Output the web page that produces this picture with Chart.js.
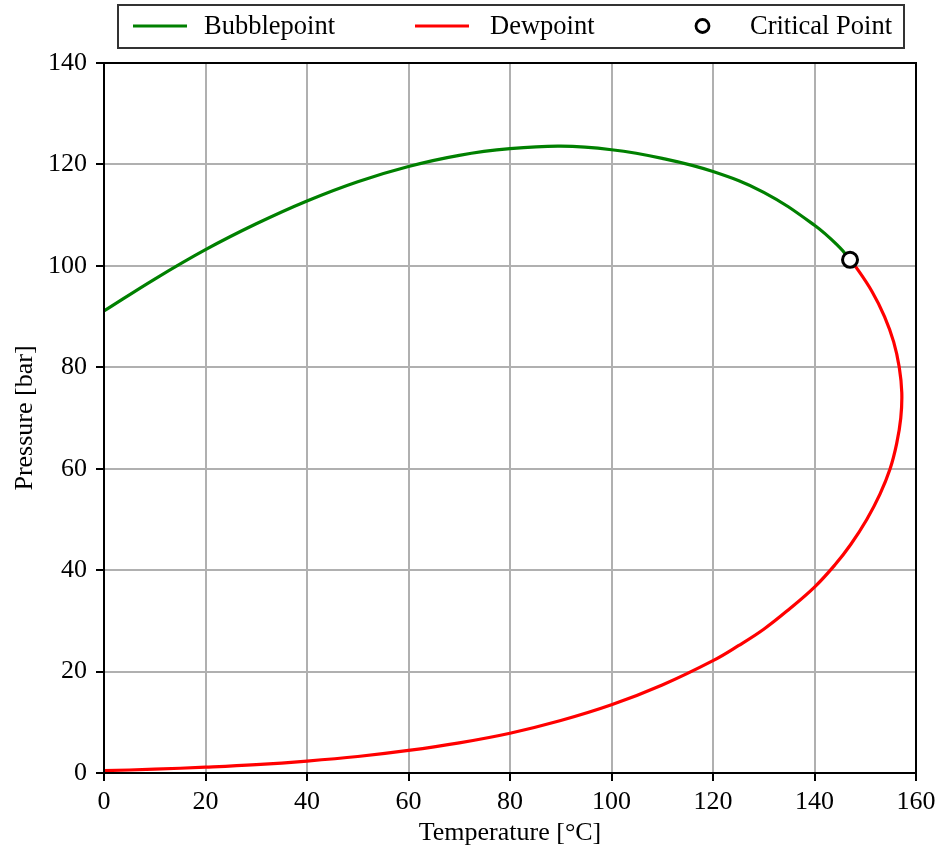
<!DOCTYPE html>
<html>
<head>
<meta charset="utf-8">
<script src="https://cdn.jsdelivr.net/npm/chart.js@4.4.4/dist/chart.umd.min.js"></script>
<style>
  html, body { margin: 0; padding: 0; background: #fff; }
  #wrap { width: 939px; height: 855px; }
</style>
</head>
<body>
<div id="wrap"><canvas id="phase" width="939" height="855"></canvas></div>
<script>
// Bubblepoint curve (temperature °C, pressure bar)
const bubbleT = [0, 10, 20, 30, 40, 50, 60, 70, 80, 90, 100, 110, 120, 130, 140, 145, 147];
const bubbleP = [91.1, 97.4, 103.2, 108.3, 112.8, 116.6, 119.6, 121.8, 123.1, 123.6, 122.9, 121.2, 118.6, 114.5, 108.0, 103.6, 101.2];

// Dewpoint curve, ordered along the curve from low pressure up to the critical point
const dewT = [0, 10, 20, 30, 40, 50, 60, 70, 80, 90, 100, 110, 120, 125, 130, 135, 140, 144, 147.1, 150.3, 152.9, 154.9, 156.2, 157.0, 157.2, 156.7, 155.6, 153.8, 151.3, 148.0, 147.0];
const dewP = [0.45, 0.75, 1.15, 1.65, 2.35, 3.25, 4.45, 5.95, 7.85, 10.35, 13.45, 17.35, 22.15, 25.1, 28.35, 32.3, 36.65, 41.0, 45, 50, 55, 60, 65, 70, 75, 80, 85, 90, 95, 100, 101.2];

// Critical point
const critT = [147.0];
const critP = [101.2];

const xTicks = { min: 0, max: 160, step: 20 };
const yTicks = { min: 0, max: 140, step: 20 };

const FONT = "'Liberation Serif', 'Times New Roman', serif";
const toPts = (xs, ys) => xs.map((x, i) => ({ x: x, y: ys[i] }));

// matplotlib-like boxed legend drawn across the top
const boxLegend = {
  id: 'boxLegend',
  afterDraw(chart) {
    const ctx = chart.ctx;
    ctx.save();
    ctx.strokeStyle = '#333';
    ctx.lineWidth = 2;
    ctx.strokeRect(118, 5, 786, 43);
    const handles = [133, 415, 676];
    const texts = [204, 490, 750];
    const cy = 26;
    ctx.font = '26.5px ' + FONT;
    ctx.textBaseline = 'alphabetic';
    chart.data.datasets.forEach((ds, i) => {
      const x0 = handles[i];
      if (ds.showLine === false) {
        ctx.beginPath();
        ctx.arc(x0 + 26.5, cy, 6.5, 0, Math.PI * 2);
        ctx.fillStyle = '#fff';
        ctx.fill();
        ctx.lineWidth = 2.8;
        ctx.strokeStyle = '#000';
        ctx.stroke();
      } else {
        ctx.beginPath();
        ctx.moveTo(x0, cy);
        ctx.lineTo(x0 + 54, cy);
        ctx.lineWidth = 3.2;
        ctx.strokeStyle = ds.borderColor;
        ctx.stroke();
      }
      ctx.fillStyle = '#000';
      ctx.fillText(ds.label, texts[i], 34);
    });
    ctx.restore();
  }
};

// black frame on all four sides of the plot area
const frame = {
  id: 'frame',
  afterDatasetsDraw(chart) {
    const { left, top, width, height } = chart.chartArea;
    const ctx = chart.ctx;
    ctx.save();
    ctx.strokeStyle = '#000';
    ctx.lineWidth = 2;
    ctx.strokeRect(left, top, width, height);
    ctx.restore();
  }
};

const tickFont = { family: FONT, size: 26 };

new Chart(document.getElementById('phase'), {
  type: 'line',
  data: {
    datasets: [
      {
        label: 'Bubblepoint',
        data: toPts(bubbleT, bubbleP),
        borderColor: '#008000',
        borderWidth: 3.2,
        pointRadius: 0,
        tension: 0.4,
        order: 2
      },
      {
        label: 'Dewpoint',
        data: toPts(dewT, dewP),
        borderColor: '#ff0000',
        borderWidth: 3.2,
        pointRadius: 0,
        tension: 0.4,
        order: 1
      },
      {
        label: 'Critical Point',
        data: toPts(critT, critP),
        showLine: false,
        pointRadius: 7.5,
        pointBorderWidth: 3,
        pointBackgroundColor: '#fff',
        pointBorderColor: '#000',
        borderColor: '#000',
        order: 0
      }
    ]
  },
  options: {
    responsive: false,
    animation: false,
    devicePixelRatio: 1,
    layout: { padding: { top: 63, right: 23, left: 0, bottom: 0 } },
    plugins: { legend: { display: false }, tooltip: { enabled: false } },
    scales: {
      x: {
        type: 'linear',
        min: xTicks.min,
        max: xTicks.max,
        ticks: { stepSize: xTicks.step, color: '#000', font: tickFont, padding: 6 },
        grid: { color: '#b0b0b0', lineWidth: 2, tickColor: '#000', tickLength: 8, tickWidth: 2 },
        border: { display: true, color: '#000', width: 2 },
        title: { display: true, text: 'Temperature [°C]', color: '#000', font: tickFont, padding: { top: 0, bottom: 6 } },
        afterFit(scale) {
          scale.height = 82;
          scale.paddingLeft = 0;
          scale.paddingRight = 0;
        }
      },
      y: {
        type: 'linear',
        min: yTicks.min,
        max: yTicks.max,
        ticks: { stepSize: yTicks.step, color: '#000', font: tickFont, padding: 9 },
        grid: { color: '#b0b0b0', lineWidth: 2, tickColor: '#000', tickLength: 8, tickWidth: 2 },
        border: { display: true, color: '#000', width: 2 },
        title: { display: true, text: 'Pressure [bar]', color: '#000', font: tickFont, padding: { top: 10, bottom: 0 } },
        afterFit(scale) {
          scale.width = 104;
          scale.paddingTop = 0;
          scale.paddingBottom = 0;
        }
      }
    }
  },
  plugins: [boxLegend, frame]
});
</script>
</body>
</html>
